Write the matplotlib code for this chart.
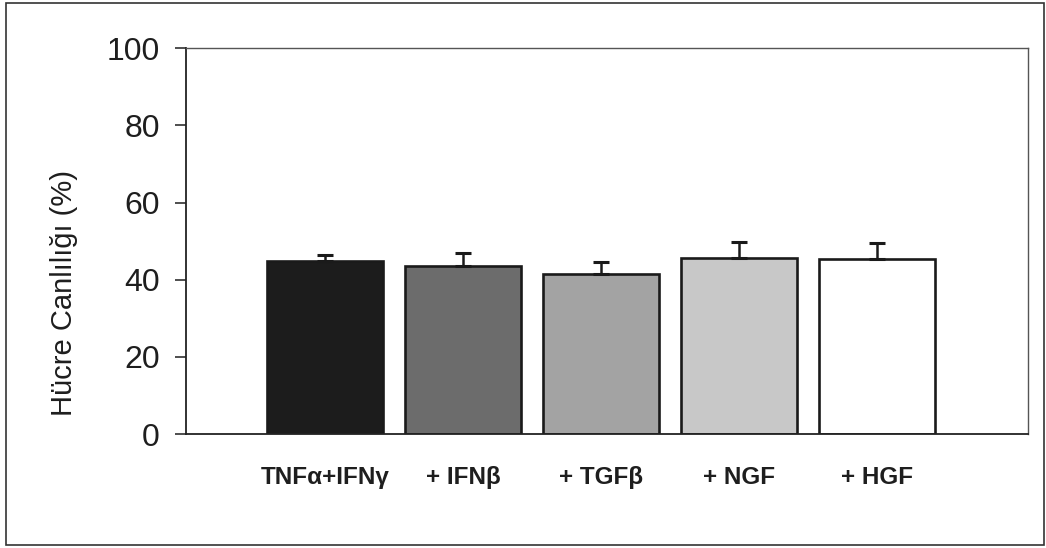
import matplotlib.pyplot as plt
from matplotlib.patches import Rectangle

# data
labels = ['TNFα+IFNγ', '+ IFNβ', '+ TGFβ', '+ NGF', '+ HGF']
values = [44.8, 43.5, 41.6, 45.7, 45.3]
errors = [1.6, 3.5, 3.0, 4.1, 4.1]
colors = ['#1c1c1c', '#6c6c6c', '#a3a3a3', '#c8c8c8', '#ffffff']

plt.rcParams['font.family'] = ['Liberation Sans', 'DejaVu Sans']

fig = plt.figure(figsize=(10.46, 5.48), dpi=100)
ax = fig.add_axes([0.178, 0.208, 0.805, 0.704])

x = list(range(len(labels)))
ax.bar(x, values, width=0.84, color=colors, edgecolor='#1a1a1a', linewidth=1.9, zorder=2)
ax.errorbar(x, values, yerr=[[0] * len(errors), errors], fmt='none',
            ecolor='#1a1a1a', elinewidth=1.8, capsize=6, capthick=2.2, zorder=3)

ax.set_xlim(-1.01, 5.1)
ax.set_ylim(0, 100)
ax.set_yticks([0, 20, 40, 60, 80, 100])
ax.set_xticks(x)
ax.set_xticklabels(labels, fontsize=17.5, fontweight='bold', color='#1e1e1e')
ax.tick_params(axis='x', length=0, pad=23)
ax.tick_params(axis='y', length=8, width=1.1, pad=11, labelsize=23, colors='#1e1e1e')

ax.set_ylabel('Hücre Canlılığı (%)', fontsize=21, color='#1e1e1e')
ax.yaxis.set_label_coords(-0.128, 0.365)

for side in ['left', 'bottom']:
    ax.spines[side].set_linewidth(1.3)
    ax.spines[side].set_color('#222222')
ax.spines['top'].set_linewidth(1.0)
ax.spines['top'].set_color('#555555')
ax.spines['right'].set_linewidth(1.0)
ax.spines['right'].set_color('#555555')

# outer frame around the whole figure
fig.patches.append(Rectangle((0.006, 0.006), 0.992, 0.988, transform=fig.transFigure,
                             fill=False, edgecolor='#333333', linewidth=1.2))

fig.savefig('out.png', dpi=100)
